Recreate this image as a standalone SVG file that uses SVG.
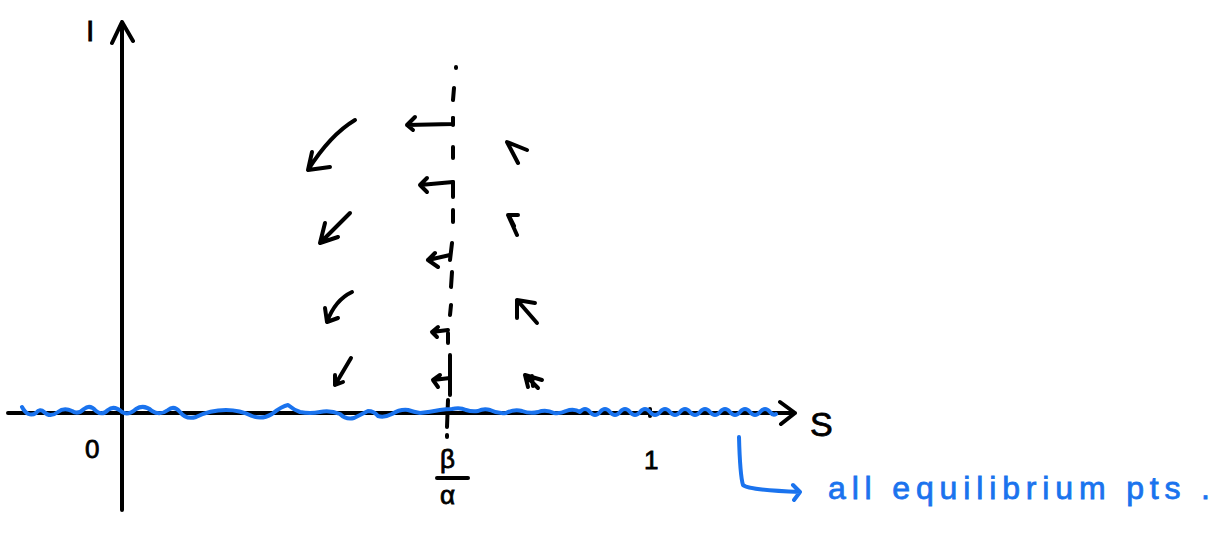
<svg xmlns="http://www.w3.org/2000/svg" width="1217" height="535" viewBox="0 0 1217 535">
<style>
.k{fill:none;stroke:#000;stroke-width:4;stroke-linecap:round;stroke-linejoin:round}
.b{fill:none;stroke:#1a73ee;stroke-width:4;stroke-linecap:round;stroke-linejoin:round}
.t{font-family:"Liberation Sans",Arial,sans-serif;fill:#000;stroke:#000;stroke-width:0.8}
.bt{font-family:"Liberation Sans",Arial,sans-serif;fill:#1a73ee;stroke:#1a73ee;stroke-width:0.8}
</style>
<rect width="1217" height="535" fill="#fff"/>
<g id="axes">
<path class="k" d="M122 510 L122 22 M112 43 L122 22 L133 41"/>
<path class="k" d="M8 413 L795 413 M780 402 L795 413 L781 424"/>
<path class="k" d="M650 409 L650 416"/>
<text class="t" x="86" y="41" font-size="30">I</text>
<text class="t" x="810" y="436" font-size="34">S</text>
<text class="t" x="85" y="458" font-size="26">0</text>
<text class="t" x="644" y="469" font-size="26">1</text>
<text class="t" x="440" y="468" font-size="26">β</text>
<path class="k" d="M437 478 L468 478"/>
<text class="t" x="440" y="504" font-size="26">α</text>
</g>
<g id="nullcline">
<path class="k" d="M456 67 L456 68 M454 88 L453 100 M453 118 L453 125 M453 147 L453 158 M453 182 L453 197 M453 210 L453 222 M452 243 L450 260 M452 272 L451 287 M451 305 L450 315 M448 333 L448 343 M450 355 L450 395 M448 400 L447 427 M447 435 L447 437"/>
</g>
<g id="vectors">
<path class="k" d="M355 120 Q330 135 308 170 M312 152 L308 170 L330 167"/>
<path class="k" d="M350 213 L320 243 M325 223 L320 243 L338 237"/>
<path class="k" d="M352 292 Q335 300 327 322 M325 308 L327 322 L338 318"/>
<path class="k" d="M351 358 L335 385 M335 375 L335 385 L343 382"/>
<path class="k" d="M453 118 L453 124 L407 125 M415 117 L407 125 L413 130"/>
<path class="k" d="M453 193 L453 182 L420 185 M427 178 L420 185 L427 192"/>
<path class="k" d="M450 255 L428 260 M435 253 L428 260 L438 267"/>
<path class="k" d="M448 330 L432 332 M438 327 L432 332 L437 337"/>
<path class="k" d="M450 378 L433 380 M440 375 L433 380 L438 387"/>
<path class="k" d="M527 150 L507 142 L518 163"/>
<path class="k" d="M518 215 L508 215 L517 235 M510 218 L514 226"/>
<path class="k" d="M535 303 L517 300 L517 318 M517 300 L537 323"/>
<path class="k" d="M542 380 L525 375 L528 387 M525 375 L538 388 M532 376 L533 386"/>
</g>
<g id="equilibria">
<path class="b" d="M22 407 Q28 418 36 413 Q40 408 44 412 Q50 418 58 412 Q64 407 72 411 Q78 415 84 409 Q90 404 96 411 Q102 416 108 410 Q114 405 122 412 Q128 416 136 409 Q144 404 152 411 Q160 416 168 410 Q174 405 180 412 Q186 420 196 417 Q210 410 226 410 Q240 410 252 416 Q262 420 272 414 Q282 406 288 405 Q294 410 300 412 Q310 414 320 412 Q330 410 340 414 Q346 420 354 418 Q362 414 368 411 Q374 411 378 416 Q384 418 392 414 Q400 409 408 410 Q414 412 420 413 Q430 412 440 410 Q446 409 452 409 Q460 407 466 410 Q472 412 478 411 Q484 408 490 410 Q498 414 506 413 Q514 409 522 411 Q530 414 538 412 Q546 409 554 413 Q560 414 566 411 Q574 408 580 412 Q585 406 590 412 Q595 418 600 412 Q605 406 610 412 Q615 418 620 412 Q625 406 630 412 Q635 418 640 412 Q645 406 650 412 Q655 418 660 412 Q665 406 670 412 Q675 418 680 412 Q685 406 690 412 Q695 418 700 412 Q705 406 710 412 Q715 418 720 412 Q725 406 730 412 Q735 418 740 412 Q745 406 750 412 Q755 418 760 412 Q765 406 770 412 Q773 416 776 414"/>
<path class="b" d="M739 437 Q740 475 743 485 Q748 490 800 492 M793 485 L800 492 L794 500"/>
<text class="bt" x="828" y="499" font-size="32" textLength="382" lengthAdjust="spacing">all equilibrium pts .</text>
</g>
</svg>
